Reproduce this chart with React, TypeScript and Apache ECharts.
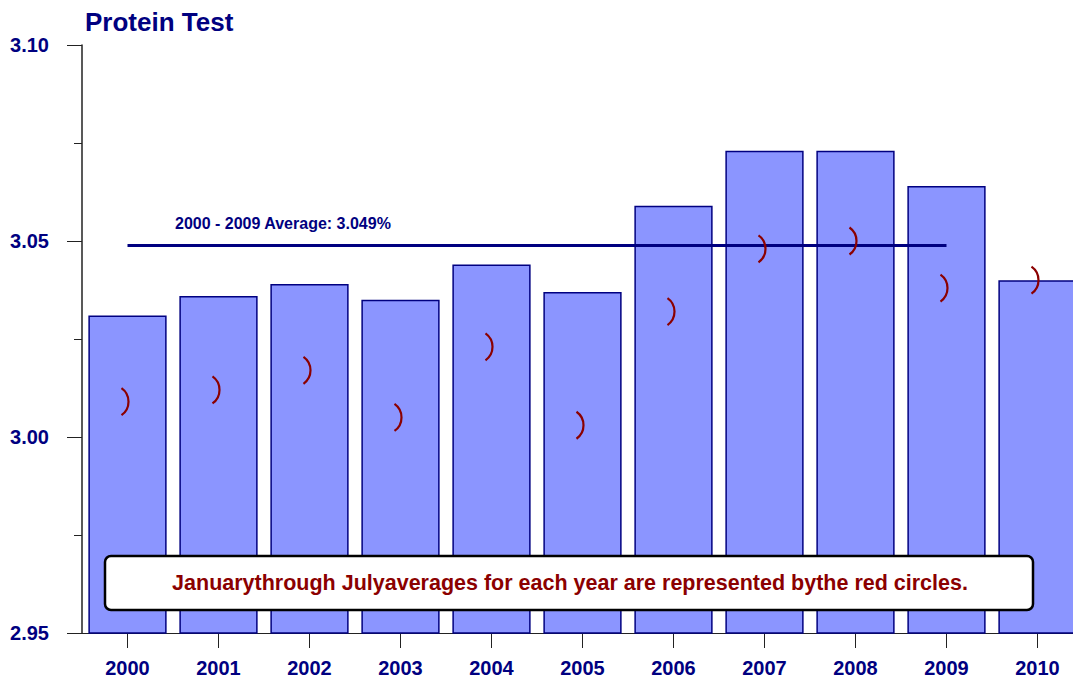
import React, { useEffect, useRef } from "react";
import * as echarts from "echarts";

const years = ["2000", "2001", "2002", "2003", "2004", "2005", "2006", "2007", "2008", "2009", "2010"];
const annualAverages = [3.031, 3.036, 3.039, 3.035, 3.044, 3.037, 3.059, 3.073, 3.073, 3.064, 3.04];
const janJulAverages = [3.009, 3.012, 3.017, 3.005, 3.023, 3.003, 3.032, 3.048, 3.05, 3.038, 3.04];
const tenYearAverage = 3.049;
const yTicks = { min: 2.95, max: 3.1, interval: 0.05 };
const averageLabel = "2000 - 2009 Average: 3.049%";
const noteText = "Januarythrough Julyaverages for each year are represented bythe red circles.";

const NAVY = "#000080";
const DARKRED = "#8B0000";
const FONT = "'Liberation Sans', Arial, sans-serif";

export default function App() {
  const ref = useRef<HTMLDivElement>(null);
  useEffect(() => {
    if (!ref.current) return;
    const chart = echarts.init(ref.current, null, { renderer: "svg" });
    const arcR = 16.5;
    const arcHalf = Math.asin(13.5 / arcR);
    chart.setOption({
      animation: false,
      backgroundColor: "#ffffff",
      title: {
        text: "Protein Test",
        left: 80,
        top: 4,
        textStyle: { color: NAVY, fontSize: 26, fontWeight: "bold", fontFamily: FONT },
      },
      grid: { left: 82, top: 45, width: 1001, height: 588, containLabel: false },
      xAxis: {
        type: "category",
        data: years,
        axisLine: { lineStyle: { color: "#222", width: 1 } },
        axisTick: { show: true, alignWithLabel: true, length: 15, lineStyle: { color: "#222" } },
        axisLabel: { color: NAVY, fontSize: 20, fontWeight: "bold", fontFamily: FONT, margin: 25 },
      },
      yAxis: {
        type: "value",
        min: yTicks.min,
        max: yTicks.max,
        interval: yTicks.interval,
        splitLine: { show: false },
        axisLine: { show: true, lineStyle: { color: "#222", width: 1.5 } },
        axisTick: { show: true, length: 15, lineStyle: { color: "#222" } },
        minorTick: { show: true, splitNumber: 2, length: 8, lineStyle: { color: "#222" } },
        axisLabel: {
          color: NAVY,
          fontSize: 20,
          fontWeight: "bold",
          fontFamily: FONT,
          margin: 33,
          formatter: (v: number) => v.toFixed(2),
        },
      },
      series: [
        {
          type: "bar",
          data: annualAverages,
          barCategoryGap: "14%",
          itemStyle: { color: "#8B95FF", borderColor: NAVY, borderWidth: 1.5 },
          markLine: {
            silent: true,
            symbol: "none",
            label: { show: false },
            lineStyle: { color: NAVY, width: 3, type: "solid" },
            data: [[{ coord: [0, tenYearAverage] }, { coord: [9, tenYearAverage] }]],
          },
        },
        {
          type: "custom",
          data: janJulAverages.map((v, i) => [i, v]),
          z: 5,
          renderItem: (params: any, api: any) => {
            const p = api.coord([api.value(0), api.value(1)]);
            return {
              type: "arc",
              shape: { cx: p[0] + 1 - arcR, cy: p[1], r: arcR, startAngle: -arcHalf, endAngle: arcHalf, clockwise: true },
              style: { stroke: DARKRED, fill: "none", lineWidth: 2.2 },
            };
          },
        },
      ],
      graphic: [
        {
          type: "text",
          left: 175,
          top: 215,
          style: { text: averageLabel, fill: NAVY, fontSize: 16, fontWeight: "bold", fontFamily: FONT },
          z: 10,
        },
        {
          type: "rect",
          shape: { x: 105, y: 556, width: 928, height: 54, r: 6 },
          style: { fill: "#ffffff", stroke: "#000000", lineWidth: 2.5 },
          z: 10,
        },
        {
          type: "text",
          x: 570,
          y: 583,
          style: {
            text: noteText,
            fill: DARKRED,
            fontSize: 21.5,
            fontWeight: "bold",
            fontFamily: FONT,
            align: "center",
            verticalAlign: "middle",
          },
          z: 11,
        },
      ],
    });
    return () => chart.dispose();
  }, []);
  return (
    <div style={{ position: "fixed", left: 0, top: 0, width: 1073, height: 681, overflow: "hidden" }}>
      <div ref={ref} style={{ width: 1083, height: 681 }} />
    </div>
  );
}
